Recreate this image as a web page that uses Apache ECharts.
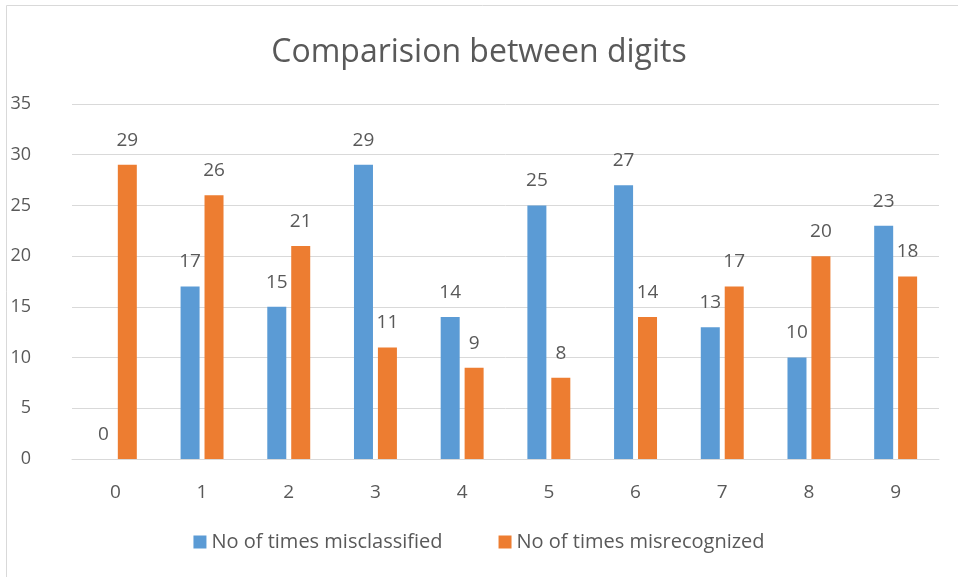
<!DOCTYPE html>
<html>
<head>
<meta charset="utf-8">
<script src="https://cdn.jsdelivr.net/npm/echarts@6/dist/echarts.min.js"></script>
<style>
  html, body { margin: 0; padding: 0; background: #fff; }
  #chart { width: 958px; height: 577px; }
</style>
</head>
<body>
<div id="chart"></div>
<script>
const digits = ['0', '1', '2', '3', '4', '5', '6', '7', '8', '9']
const misclassified = [0, 17, 15, 29, 14, 25, 27, 13, 10, 23]
const misrecognized = [29, 26, 21, 11, 9, 8, 14, 17, 20, 18]
const seriesNames = ['No of times misclassified', 'No of times misrecognized']

const textColor = '#595959'
const font = 'Open Sans'

const chart = echarts.init(document.getElementById('chart'))

// 柱状图
chart.setOption({
  animation: false,
  color: ['#5B9BD5', '#ED7D31'],
  title: {
    text: 'Comparision between digits',
    left: 'center',
    top: 32,
    textStyle: { color: textColor, fontFamily: font, fontSize: 32, fontWeight: 'normal' }
  },
  graphic: [
    {
      type: 'rect',
      shape: { x: 6.5, y: 5.5, width: 960, height: 600 },
      style: { fill: 'none', stroke: '#D9D9D9', lineWidth: 1 },
      silent: true
    }
  ],
  legend: {
    bottom: 20,
    left: 'center',
    itemWidth: 13,
    itemHeight: 13,
    itemGap: 56,
    icon: 'rect',
    textStyle: { color: textColor, fontFamily: font, fontSize: 20 },
    data: seriesNames
  },
  grid: { left: 72, right: 19, top: 104, bottom: 118, containLabel: false },
  xAxis: {
    type: 'category',
    data: digits,
    axisLine: { lineStyle: { color: '#D9D9D9', width: 1 } },
    axisTick: { show: false },
    axisLabel: { color: textColor, fontFamily: font, fontSize: 19, margin: 24 }
  },
  yAxis: {
    type: 'value',
    min: 0,
    max: 35,
    interval: 5,
    axisLine: { show: false },
    axisTick: { show: false },
    splitLine: { lineStyle: { color: '#D9D9D9', width: 1 } },
    axisLabel: { color: textColor, fontFamily: font, fontSize: 18, margin: 41 }
  },
  series: [
    {
      name: seriesNames[0],
      type: 'bar',
      data: misclassified,
      barWidth: 19,
      barGap: '26%',
      label: { show: true, position: 'top', distance: 15, color: textColor, fontFamily: font, fontSize: 19 }
    },
    {
      name: seriesNames[1],
      type: 'bar',
      data: misrecognized,
      barWidth: 19,
      label: { show: true, position: 'top', distance: 15, color: textColor, fontFamily: font, fontSize: 19 }
    }
  ]
})
</script>
</body>
</html>
